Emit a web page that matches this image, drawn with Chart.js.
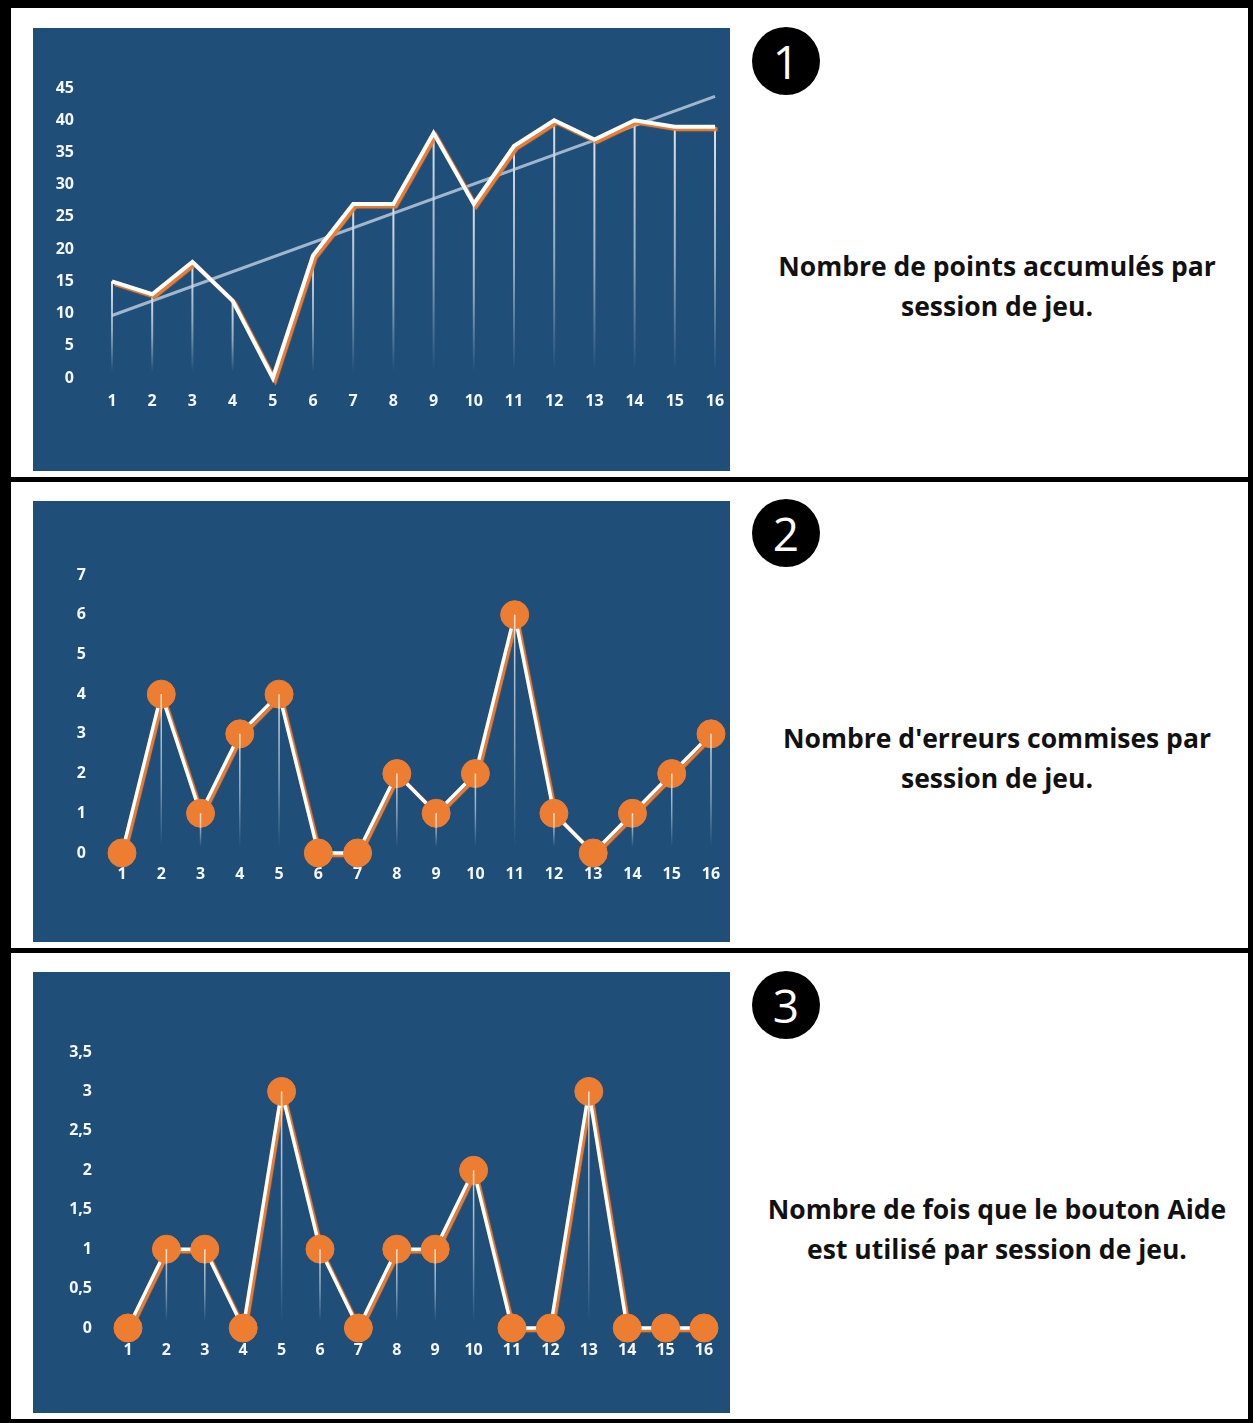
<!DOCTYPE html>
<html lang="fr">
<head>
<meta charset="utf-8">
<title>Sessions de jeu</title>
<script src="https://cdn.jsdelivr.net/npm/chart.js@4/dist/chart.umd.min.js"></script>
<style>
  html, body { margin: 0; padding: 0; background: #ffffff; }
  body { position: relative; width: 1253px; height: 1423px; overflow: hidden; }
  .rule { position: absolute; background: #000; }
  .panel { position: absolute; left: 33px; width: 697px; background: #1f4e79; }
  .panel canvas { display: block; }
  .badge {
    position: absolute; left: 752px; width: 68px; height: 68px; border-radius: 50%;
    background: #000; color: #fff; font: 400 46px "Open Sans", "Noto Sans", sans-serif;
    line-height: 68px; text-align: center;
  }
  .caption {
    position: absolute; left: 737px; width: 520px; text-align: center; color: #111;
    font: 700 26.5px "Open Sans", "Noto Sans", sans-serif; line-height: 40px;
  }
</style>
</head>
<body>
  <!-- frame and separators -->
  <div class="rule" style="left:0;top:0;width:1253px;height:8px"></div>
  <div class="rule" style="left:0;top:0;width:11px;height:1423px"></div>
  <div class="rule" style="left:1248px;top:0;width:5px;height:1423px"></div>
  <div class="rule" style="left:0;top:1419px;width:1253px;height:4px"></div>
  <div class="rule" style="left:0;top:477px;width:1253px;height:5px"></div>
  <div class="rule" style="left:0;top:948px;width:1253px;height:5px"></div>

  <div class="panel" style="top:28px;height:443px"><canvas id="chartPoints" width="697" height="443"></canvas></div>
  <div class="panel" style="top:501px;height:441px"><canvas id="chartErrors" width="697" height="441"></canvas></div>
  <div class="panel" style="top:972px;height:441px"><canvas id="chartHelp" width="697" height="441"></canvas></div>

  <div class="badge" style="top:27px">1</div>
  <div class="badge" style="top:499px">2</div>
  <div class="badge" style="top:971px">3</div>

  <div class="caption" style="top:246px">Nombre de points accumulés par<br>session de jeu.</div>
  <div class="caption" style="top:718px">Nombre d'erreurs commises par<br>session de jeu.</div>
  <div class="caption" style="top:1189px">Nombre de fois que le bouton Aide<br>est utilisé par session de jeu.</div>

<script>
// Session numbers along the x axis
const sessions = ['1','2','3','4','5','6','7','8','9','10','11','12','13','14','15','16'];

// Points accumulated per session
const pointsPerSession = [15, 13, 18, 12, 0, 19, 27, 27, 38, 27, 36, 40, 37, 40, 39, 39];
// Linear trend of the points: value at the first and at the last session
const pointsTrendEnds = [9.7, 43.7];

// Errors made per session
const errorsPerSession = [0, 4, 1, 3, 4, 0, 0, 2, 1, 2, 6, 1, 0, 1, 2, 3];

// Times the help button was used per session
const helpPerSession = [0, 1, 1, 0, 3, 1, 0, 1, 1, 2, 0, 0, 3, 0, 0, 0];

// Value-axis ranges
const pointsAxis = { max: 45, step: 5 };
const errorsAxis = { max: 7, step: 1 };
const helpAxis = { max: 3.5, step: 0.5 };

const ORANGE = '#ed7d31';
const TICK_FONT = { family: '"Noto Sans", sans-serif', size: 16, weight: 'bold' };

// Orange offset shadow under the white series line
const lineShadow = {
  id: 'lineShadow',
  beforeDatasetDraw(chart, args) {
    if (!chart.data.datasets[args.index].orangeShadow) return;
    const ctx = chart.ctx;
    ctx.save();
    ctx.shadowColor = ORANGE;
    ctx.shadowOffsetX = 2.5;
    ctx.shadowOffsetY = 2.5;
    ctx.shadowBlur = 1;
  },
  afterDatasetDraw(chart, args) {
    if (!chart.data.datasets[args.index].orangeShadow) return;
    chart.ctx.restore();
  }
};

// Fading vertical drop lines from each point toward the zero line
function strokeDropLines(chart, opts) {
  const meta = chart.getDatasetMeta(opts.datasetIndex);
  const y0 = chart.scales.y.getPixelForValue(0);
  const ctx = chart.ctx;
  ctx.save();
  ctx.lineWidth = opts.width;
  meta.data.forEach(pt => {
    const end = y0 - opts.gap;
    if (end - pt.y < 4) return;
    const g = ctx.createLinearGradient(0, pt.y, 0, end);
    g.addColorStop(0, 'rgba(255,255,255,' + opts.alpha + ')');
    g.addColorStop(0.55, 'rgba(255,255,255,' + (opts.alpha * 0.6) + ')');
    g.addColorStop(1, 'rgba(255,255,255,0)');
    ctx.strokeStyle = g;
    ctx.beginPath();
    ctx.moveTo(pt.x, pt.y);
    ctx.lineTo(pt.x, end);
    ctx.stroke();
  });
  ctx.restore();
}
const dropLines = {
  id: 'dropLines',
  beforeDatasetsDraw(chart, args, opts) { if (!opts.front) strokeDropLines(chart, opts); },
  afterDatasetsDraw(chart, args, opts) { if (opts.front) strokeDropLines(chart, opts); }
};

function makeChart(id, cfg) {
  const canvas = document.getElementById(id);
  const area = cfg.area; // chart area inside the canvas
  return new Chart(canvas, {
    type: 'line',
    data: { labels: sessions, datasets: cfg.datasets },
    plugins: [lineShadow, dropLines],
    options: {
      responsive: false,
      animation: false,
      devicePixelRatio: 1,
      layout: { padding: { top: area.top, right: canvas.width - area.right, bottom: 0, left: 0 } },
      plugins: {
        legend: { display: false },
        tooltip: { enabled: false },
        dropLines: cfg.drop
      },
      scales: {
        x: {
          type: 'category',
          offset: false,
          grid: { display: false, drawTicks: false },
          border: { display: false },
          ticks: { color: '#f4f6f8', font: TICK_FONT, padding: cfg.xPad, maxRotation: 0, autoSkip: false },
          afterFit: s => {
            s.height = canvas.height - area.bottom;
            s.paddingLeft = 0; s.paddingRight = 0;
          }
        },
        y: {
          min: 0,
          max: cfg.axis.max,
          grid: { display: false, drawTicks: false },
          border: { display: false },
          ticks: {
            color: '#f4f6f8', font: TICK_FONT, padding: cfg.yPad,
            stepSize: cfg.axis.step,
            callback: v => String(v).replace('.', ',')
          },
          afterFit: s => {
            s.width = area.left;
            s.paddingTop = 0; s.paddingBottom = 0;
          }
        }
      }
    }
  });
}

// 1 — points per session, with trend line
const trendData = sessions.map((_, i) =>
  i === 0 ? pointsTrendEnds[0] : (i === sessions.length - 1 ? pointsTrendEnds[1] : null));

makeChart('chartPoints', {
  area: { left: 79, right: 682, top: 60, bottom: 350 },
  axis: pointsAxis, xPad: 14, yPad: 38,
  drop: { datasetIndex: 0, width: 2, alpha: 0.85, gap: 6, front: false },
  datasets: [
    {
      data: pointsPerSession, orangeShadow: true,
      borderColor: '#ffffff', borderWidth: 4, pointRadius: 0,
      borderJoinStyle: 'miter', tension: 0, clip: false
    },
    {
      data: trendData, spanGaps: true,
      borderColor: 'rgba(205,218,232,0.75)', borderWidth: 3, pointRadius: 0,
      tension: 0, clip: false
    }
  ]
});

// 2 — errors per session
makeChart('chartErrors', {
  area: { left: 89, right: 678, top: 74, bottom: 352 },
  axis: errorsAxis, xPad: 12, yPad: 36,
  drop: { datasetIndex: 0, width: 1.5, alpha: 0.8, gap: 6, front: true },
  datasets: [
    {
      data: errorsPerSession, showLine: false,
      pointRadius: 14, pointBackgroundColor: ORANGE, pointBorderColor: ORANGE, pointBorderWidth: 1,
      clip: false
    },
    {
      data: errorsPerSession, orangeShadow: true,
      borderColor: '#ffffff', borderWidth: 3.5, pointRadius: 0, tension: 0, clip: false
    }
  ]
});

// 3 — help button uses per session
makeChart('chartHelp', {
  area: { left: 95, right: 671, top: 80, bottom: 356 },
  axis: helpAxis, xPad: 13, yPad: 36,
  drop: { datasetIndex: 0, width: 1.5, alpha: 0.8, gap: 6, front: true },
  datasets: [
    {
      data: helpPerSession, showLine: false,
      pointRadius: 14, pointBackgroundColor: ORANGE, pointBorderColor: ORANGE, pointBorderWidth: 1,
      clip: false
    },
    {
      data: helpPerSession, orangeShadow: true,
      borderColor: '#ffffff', borderWidth: 3.5, pointRadius: 0, tension: 0, clip: false
    }
  ]
});
</script>
</body>
</html>
